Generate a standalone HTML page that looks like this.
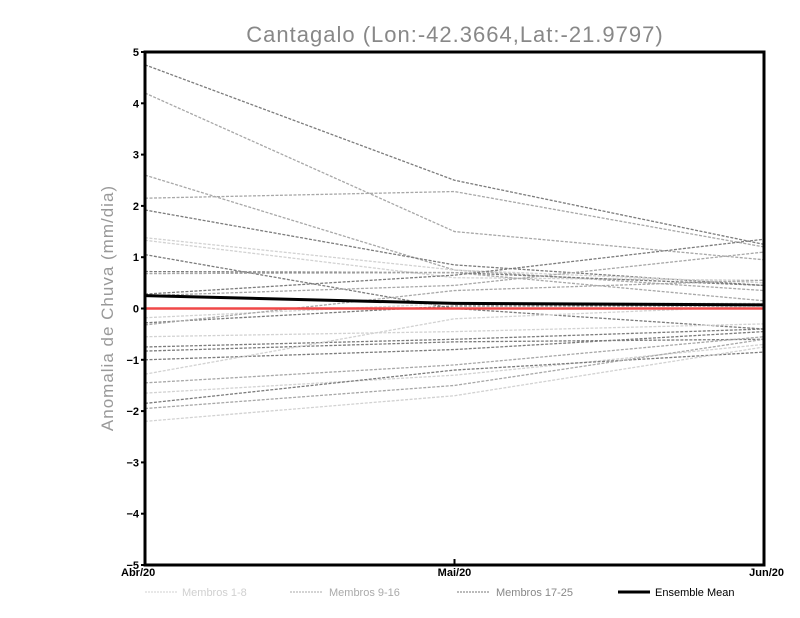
<!DOCTYPE html>
<html><head><meta charset="utf-8"><style>
body{margin:0;background:#fff;}
svg{display:block;font-family:"Liberation Sans",sans-serif;}
</style></head><body>
<svg id="chart" width="800" height="618">
<text x="455" y="42" text-anchor="middle" font-size="22" fill="#888" letter-spacing="1">Cantagalo (Lon:-42.3664,Lat:-21.9797)</text>
<text transform="translate(113,308) rotate(-90)" text-anchor="middle" font-size="17" fill="#999" letter-spacing="1">Anomalia de Chuva (mm/dia)</text>
<g id="plot"></g>
<g id="legend">
<line x1="145" y1="592" x2="177" y2="592" stroke="#d0d0d0" stroke-dasharray="2,1"/>
<text x="182" y="596" font-size="11" fill="#d0d0d0">Membros 1-8</text>
<line x1="290" y1="592" x2="322" y2="592" stroke="#aaa" stroke-dasharray="2,1"/>
<text x="329" y="596" font-size="11" fill="#aaa">Membros 9-16</text>
<line x1="457" y1="592" x2="489" y2="592" stroke="#777" stroke-dasharray="2,1"/>
<text x="496" y="596" font-size="11" fill="#888">Membros 17-25</text>
<line x1="618" y1="592" x2="650" y2="592" stroke="#000" stroke-width="3"/>
<text x="655" y="596" font-size="11" fill="#000">Ensemble Mean</text>
</g>
</svg>
<script>
const categories=["Abr/20","Mai/20","Jun/20"];
const yTicks=[-5,-4,-3,-2,-1,0,1,2,3,4,5];
const membersApr=[4.75,4.2,2.6,2.15,1.92,1.38,1.33,1.05,0.72,0.68,0.28,0.25,-0.18,-0.28,-0.32,-0.55,-0.75,-0.83,-1.0,-1.28,-1.45,-1.65,-1.85,-1.95,-2.2];
const membersMai=[2.5,1.5,0.75,2.28,0.85,0.75,0.6,0.0,0.7,0.7,0.65,0.45,0.1,0.05,0.35,-0.45,-0.6,-0.65,-0.8,-0.2,-1.1,-1.3,-1.2,-1.5,-1.7];
const membersJun=[1.25,0.95,0.35,1.2,0.45,0.5,0.55,-0.4,0.45,0.15,1.35,1.1,0.1,0.05,0.55,-0.3,-0.4,-0.6,-0.45,0.05,-0.55,-0.7,-0.85,-0.6,-0.75];
const memberGroup=[3,2,2,2,3,1,1,3,3,2,3,2,1,3,2,1,3,3,3,1,2,1,3,2,1];
const meanValues=[0.25,0.1,0.07];
const X0=145,X1=764,Y0=565,Y1=52;
const xs=i=>X0+(X1-X0)*i/(categories.length-1);
const ys=v=>Y0-(v+5)/10*(Y0-Y1);
const NS="http://www.w3.org/2000/svg";
const plot=document.getElementById('plot');
function mk(t,a){const e=document.createElementNS(NS,t);for(const k in a)e.setAttribute(k,a[k]);plot.appendChild(e);return e;}
const gcol={1:"#d2d2d2",2:"#a8a8a8",3:"#7c7c7c"};
membersApr.forEach((v,i)=>{
  const vals=[v,membersMai[i],membersJun[i]];
  const p=mk('polyline',{points:vals.map((d,j)=>xs(j)+","+ys(d)).join(" "),fill:"none",stroke:gcol[memberGroup[i]],"stroke-width":1.3,"stroke-dasharray":"3,1.5"});
  
  
});
const z=mk('line',{x1:X0,x2:X1,y1:ys(0),y2:ys(0),stroke:"#f04848","stroke-width":2.5});


const m=mk('polyline',{points:meanValues.map((d,j)=>xs(j)+","+ys(d)).join(" "),fill:"none",stroke:"#000","stroke-width":3});


const fr=mk('rect',{x:X0,y:Y1,width:X1-X0,height:Y0-Y1,fill:"none",stroke:"#000","stroke-width":3});


yTicks.forEach(t=>{
  const l=mk('line',{x1:X0-4,x2:X0,y1:ys(t),y2:ys(t),stroke:"#000","stroke-width":2});
  
  
  const tx=mk('text',{x:X0-6,y:ys(t)+4,"text-anchor":"end","font-size":11,"font-weight":"bold"});
  tx.textContent=(t<0?"\u2212"+(-t):t);
  
  
});
categories.forEach((c,i)=>{
  const l=mk('line',{x1:xs(i),x2:xs(i),y1:Y0,y2:Y0-6,stroke:"#000","stroke-width":2});
  
  
  const anchor=i==0?"start":(i==categories.length-1?"end":"middle");
  const tx=mk('text',{x:i==0?X0-24:(i==categories.length-1?X1+20:xs(i)),y:Y0+11,"text-anchor":anchor,"font-size":11,"font-weight":"bold"});
  tx.textContent=c;
  
  
});
</script>
</body></html>
